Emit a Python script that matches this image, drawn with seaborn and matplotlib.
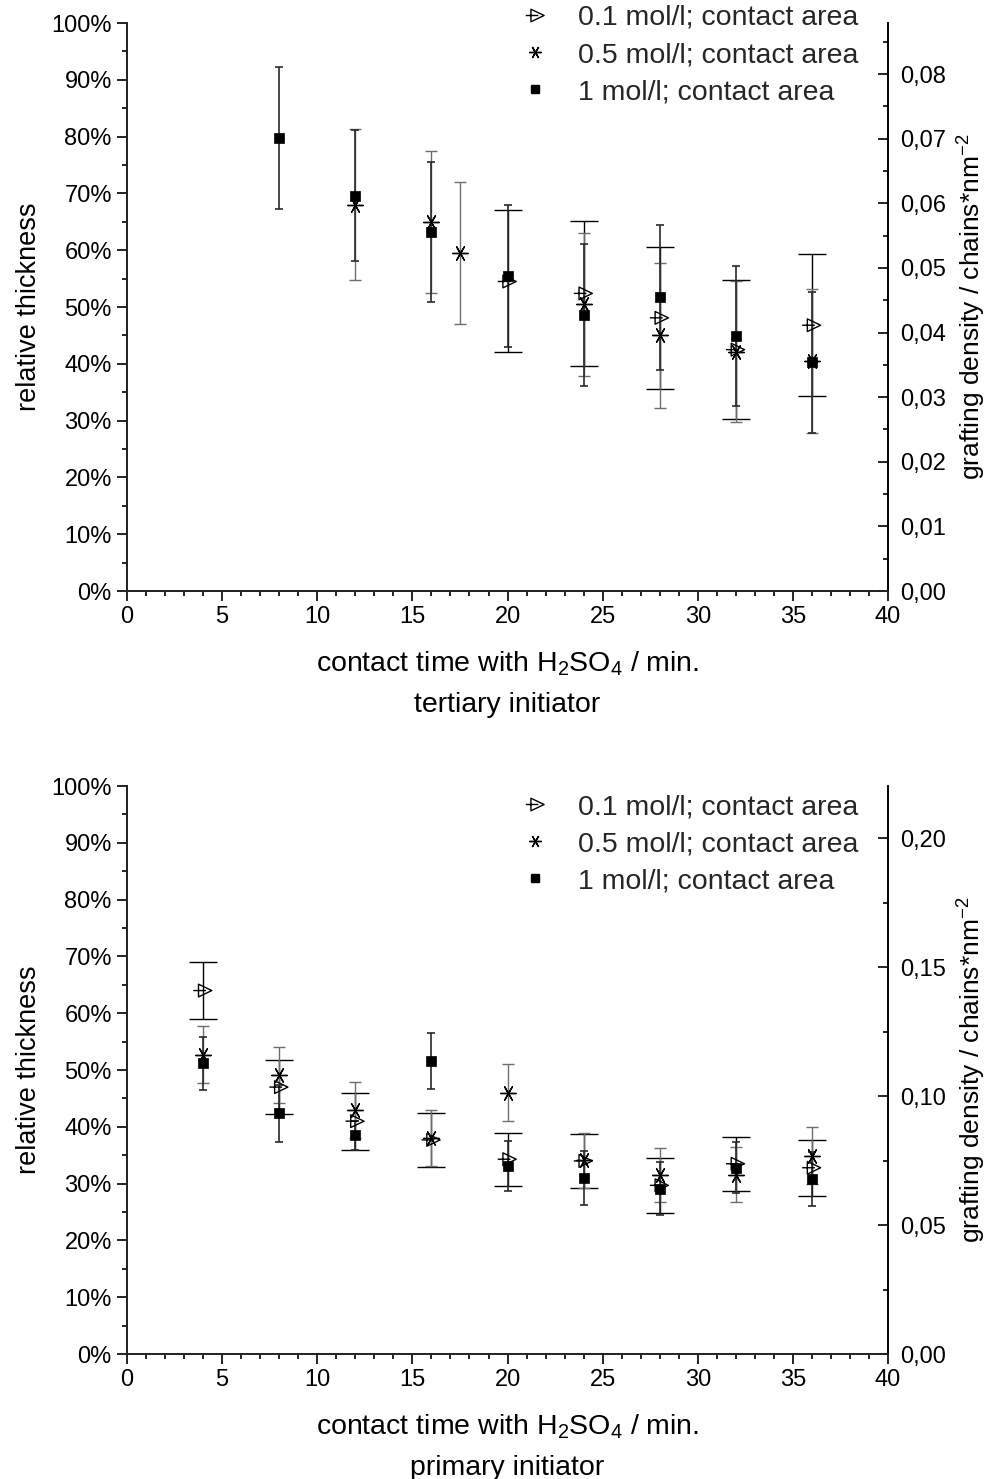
import numpy as np
import pandas as pd
import matplotlib
matplotlib.use("Agg")
import matplotlib.pyplot as plt
import seaborn as sns
from matplotlib.path import Path
from matplotlib.lines import Line2D
from matplotlib.ticker import MultipleLocator, PercentFormatter, FuncFormatter

# ---- tertiary initiator (relative thickness in %, error in %) ----
ter_01_t = [20, 24, 28, 32, 36]
ter_01_y = [54.5, 52.4, 48.1, 42.5, 46.8]
ter_01_e = [12.5, 12.7, 12.5, 12.2, 12.5]

ter_05_t = [12, 16, 17.5, 24, 28, 32, 36]
ter_05_y = [68.0, 65.0, 59.6, 50.5, 45.0, 42.1, 40.5]
ter_05_e = [13.3, 12.5, 12.5, 12.6, 12.7, 12.4, 12.6]

ter_1_t = [8, 12, 16, 20, 24, 28, 32, 36]
ter_1_y = [79.7, 69.6, 63.2, 55.5, 48.6, 51.7, 44.9, 40.3]
ter_1_e = [12.5, 11.5, 12.4, 12.5, 12.5, 12.8, 12.3, 12.4]

# ---- primary initiator ----
pri_01_t = [4, 8, 12, 16, 20, 24, 28, 32, 36]
pri_01_y = [64.0, 47.0, 41.0, 37.7, 34.3, 34.0, 29.7, 33.5, 32.8]
pri_01_e = [5.0, 4.8, 5.0, 4.8, 4.7, 4.8, 4.8, 4.8, 4.9]

pri_05_t = [4, 8, 12, 16, 20, 24, 28, 32, 36]
pri_05_y = [52.7, 49.1, 43.0, 38.0, 46.0, 34.1, 31.5, 31.6, 34.9]
pri_05_e = [5.0, 4.9, 4.9, 4.9, 5.0, 4.9, 4.8, 4.9, 5.0]

pri_1_t = [4, 8, 12, 16, 20, 24, 28, 32, 36]
pri_1_y = [51.2, 42.4, 38.5, 51.6, 33.1, 31.0, 29.1, 32.8, 30.8]
pri_1_e = [4.7, 5.0, 2.5, 4.9, 4.4, 4.8, 4.7, 4.5, 4.8]

labels = ["0.1 mol/l; contact area", "0.5 mol/l; contact area", "1 mol/l; contact area"]
subtitles = ["tertiary initiator", "primary initiator"]
right_max = [0.0879, 0.2202]      # grafting density at 100 % relative thickness
right_major = [0.01, 0.05]

sns.set_theme(style="ticks")
plt.rcParams["font.family"] = ["Liberation Sans", "DejaVu Sans"]
plt.rcParams["mathtext.fontset"] = "custom"
plt.rcParams["mathtext.rm"] = "Liberation Sans"
plt.rcParams["mathtext.it"] = "Liberation Sans:italic"
plt.rcParams["mathtext.default"] = "regular"
plt.rcParams["axes.linewidth"] = 1.2

# open right-pointing triangle with a horizontal stroke
tri_path = Path(
    [(-0.40, 0.55), (0.75, 0.0), (-0.40, -0.55), (-0.40, 0.55), (-0.85, 0.0), (0.25, 0.0)],
    [Path.MOVETO, Path.LINETO, Path.LINETO, Path.CLOSEPOLY, Path.MOVETO, Path.LINETO],
)
star_marker = (6, 2, 90)

series_style = [
    dict(marker=tri_path, s=200, ecol="black", cap=10, elw=1.0),
    dict(marker=star_marker, s=125, ecol="#6e6e6e", cap=4, elw=1.0),
    dict(marker="s", s=48, ecol="#2a2a2a", cap=3, elw=1.2),
]

fig = plt.figure(figsize=(9.94, 14.79), dpi=100)
ax_top = fig.add_axes([0.1278, 0.6004, 0.7656, 0.3840])
ax_bot = fig.add_axes([0.1278, 0.0845, 0.7656, 0.3840])

panels = [
    (ax_top, [(ter_01_t, ter_01_y, ter_01_e), (ter_05_t, ter_05_y, ter_05_e), (ter_1_t, ter_1_y, ter_1_e)]),
    (ax_bot, [(pri_01_t, pri_01_y, pri_01_e), (pri_05_t, pri_05_y, pri_05_e), (pri_1_t, pri_1_y, pri_1_e)]),
]

for i, (ax, series) in enumerate(panels):
    for (t, y, e), st in zip(series, series_style):
        ax.errorbar(t, y, yerr=e, fmt="none", ecolor=st["ecol"], elinewidth=st["elw"],
                    capsize=st["cap"], capthick=st["elw"], zorder=2)
    for (t, y, e), st in zip(series, series_style):
        df = pd.DataFrame({"t": t, "y": y})
        if st["marker"] is star_marker:
            sns.scatterplot(data=df, x="t", y="y", ax=ax, marker=st["marker"], s=st["s"],
                            color="black", linewidth=1.0, zorder=3, legend=False)
        elif st["marker"] == "s":
            sns.scatterplot(data=df, x="t", y="y", ax=ax, marker="s", s=st["s"],
                            color="black", edgecolor="black", linewidth=0.5, zorder=4, legend=False)
        else:
            sns.scatterplot(data=df, x="t", y="y", ax=ax, marker=st["marker"], s=st["s"],
                            facecolor="none", edgecolor="black", linewidth=1.0, zorder=3, legend=False)

    ax.set_xlim(0, 40)
    ax.set_ylim(0, 100)
    ax.xaxis.set_major_locator(MultipleLocator(5))
    ax.xaxis.set_minor_locator(MultipleLocator(1))
    ax.yaxis.set_major_locator(MultipleLocator(10))
    ax.yaxis.set_minor_locator(MultipleLocator(5))
    ax.yaxis.set_major_formatter(PercentFormatter(decimals=0))
    ax.tick_params(axis="both", which="major", direction="out", length=7, width=1.2,
                   labelsize=17, pad=4, color="black", labelcolor="black")
    ax.tick_params(axis="both", which="minor", direction="out", length=3.5, width=1.2, color="black")
    ax.spines["top"].set_visible(False)
    for sp in ("left", "bottom", "right"):
        ax.spines[sp].set_color("black")
    ax.set_ylabel("relative thickness", fontsize=19.5, labelpad=7, color="black")
    ax.set_xlabel("contact time with H$_2$SO$_4$ / min.\n" + subtitles[i], fontsize=20.5,
                  labelpad=15, linespacing=1.7, color="black")
    ax.set_facecolor("white")

    # grafting density axis
    axr = ax.twinx()
    axr.set_ylim(0, right_max[i])
    axr.yaxis.set_major_locator(MultipleLocator(right_major[i]))
    axr.yaxis.set_minor_locator(MultipleLocator(right_major[i] / 2))
    axr.yaxis.set_major_formatter(FuncFormatter(lambda v, p: f"{v:.2f}".replace(".", ",")))
    axr.tick_params(axis="y", which="major", direction="in", length=7, width=1.2,
                    labelsize=17, pad=9, color="black", labelcolor="black")
    axr.tick_params(axis="y", which="minor", direction="in", length=3.5, width=1.2, color="black")
    axr.spines["top"].set_visible(False)
    axr.spines["right"].set_color("black")
    axr.set_ylabel("grafting density / chains*nm$^{-2}$", fontsize=19, labelpad=7, color="black")

    handles = [
        Line2D([], [], linestyle="none", marker=tri_path, markersize=14, markerfacecolor="none",
               markeredgecolor="black", markeredgewidth=1.0),
        Line2D([], [], linestyle="none", marker=star_marker, markersize=9, color="black",
               markeredgewidth=1.0),
        Line2D([], [], linestyle="none", marker="s", markersize=5.5, color="black"),
    ]
    anchor = (0.518, 1.032) if i == 0 else (0.518, 0.986)
    ax.legend(handles, labels, loc="upper left", bbox_to_anchor=anchor, frameon=False,
              fontsize=20.5, handlelength=1.0, handletextpad=1.0, labelspacing=0.39,
              borderpad=0.0, borderaxespad=0.0)

fig.savefig("out.png", dpi=100, facecolor="white")
